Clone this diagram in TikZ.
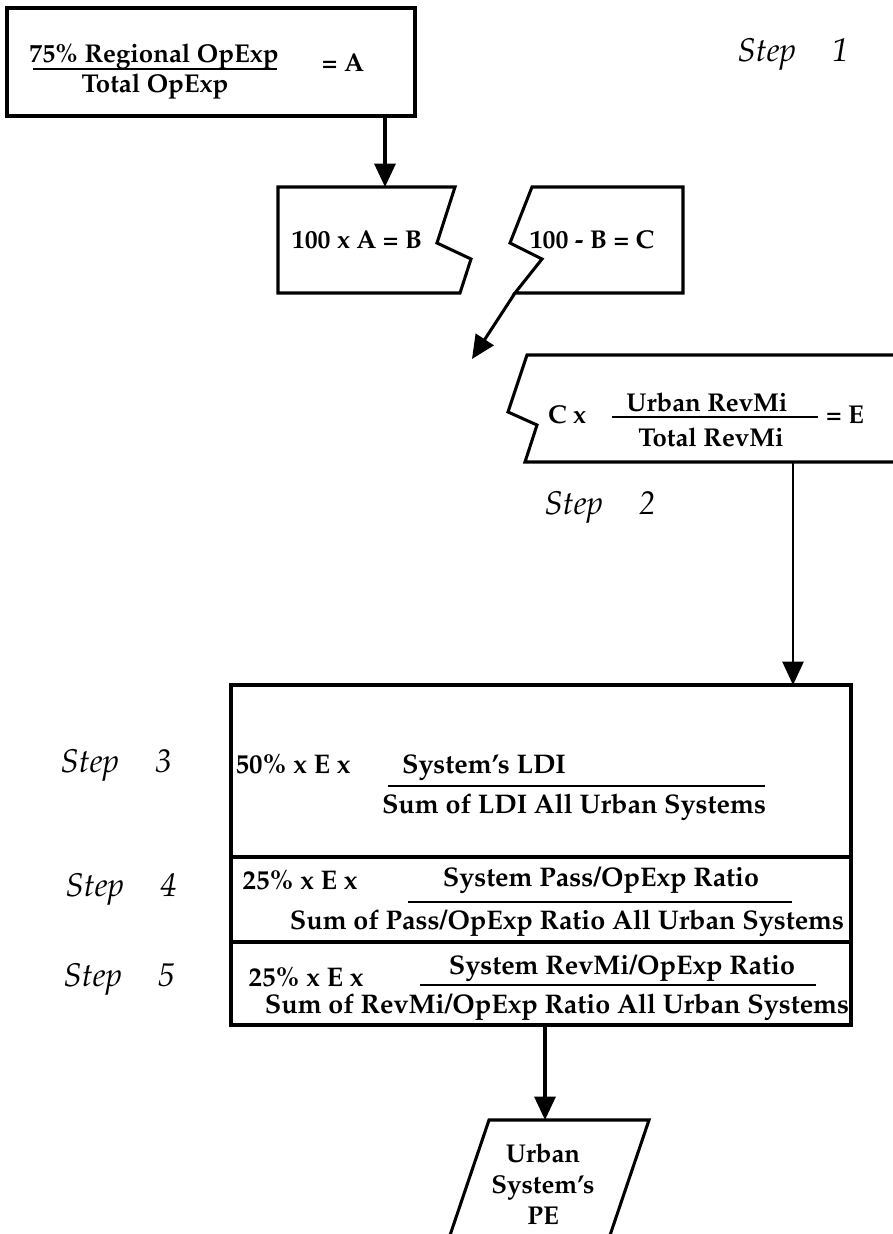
\documentclass[tikz,border=0pt]{standalone}
\usepackage[T1]{fontenc}
\usepackage{mathpazo}
\usepackage{tikz}
\usetikzlibrary{arrows.meta}

\tikzset{
  frame/.style={line width=1.3pt, line join=miter},
  flow/.style={line width=1.3pt, -{Triangle[length=10pt,width=9pt]}},
  eq/.style={font=\bfseries\fontsize{11}{13}\selectfont, inner sep=0pt},
  rowtext/.style={font=\bfseries\fontsize{11.5}{13}\selectfont, inner sep=0pt},
  steplbl/.style={font=\itshape\fontsize{14}{16}\selectfont, inner sep=0pt},
  fracrule/.style={line width=1pt}
}

\begin{document}
\begin{tikzpicture}[x=0.015cm,y=-0.015cm]
  \useasboundingbox (0,0) rectangle (893,1234);

  % Step 1: share of regional expenses
  \draw[frame] (7,8) rectangle (415,116);
  \node[eq] (regop) at (154,56) {75\% Regional OpExp};
  \node[eq] (totop) at (155,86) {Total OpExp};
  \draw[fracrule] (33,69) -- (277,69);
  \node[eq] (eqA) at (343,63) {= A};
  \node[steplbl] (step1) at (793,55) {Step\hspace{1.1em}1};

  % Percentages B and C (torn boxes)
  \draw[frame] (278,187) -- (455,187) -- (437,243) -- (471,259) -- (460,293) -- (278,293) -- cycle;
  \node[eq] (mulB) at (357,240) {100 x A = B};
  \draw[frame] (532,187) -- (683,187) -- (683,293) -- (515,293) -- (542,259) -- (510,243) -- cycle;
  \node[eq] (subC) at (592,240) {100 - B = C};

  \coordinate (aOut) at (385,116);
  \coordinate (bIn) at (385,187);
  \draw[flow] (aOut) -- (bIn);

  % Step 2: urban share E
  \draw[frame] (527,355) -- (900,355) -- (900,462) -- (525,462) -- (537,425) -- (508,412) -- cycle;
  \node[eq] (cx) at (567,415) {C x};
  \node[eq] (urbrm) at (707,402) {Urban RevMi};
  \node[eq] (totrm) at (711,437) {Total RevMi};
  \draw[fracrule] (612,417) -- (818,417);
  \node[eq] (eqE) at (845,415) {= E};
  \node[steplbl] (step2) at (600,508) {Step\hspace{1.1em}2};

  \coordinate (cOut) at (515,293);
  \coordinate (eIn) at (472,359);
  \draw[flow] (cOut) -- (eIn);

  % Steps 3-5: allocation box
  \draw[frame] (231,685) rectangle (851,1025);
  \draw[frame] (231,857) -- (851,857);
  \draw[frame] (231,942) -- (851,942);

  \coordinate (eOut) at (793,462);
  \coordinate (allocIn) at (793,685);
  \draw[flow, line width=1pt] (eOut) -- (allocIn);

  \node[steplbl] (step3) at (116,766) {Step\hspace{1.1em}3};
  \node[rowtext] (pct3) at (293,764) {50\% x E x};
  \node[rowtext] (ldi) at (484,768) {System's LDI};
  \draw[fracrule] (388,786) -- (765,786);
  \node[rowtext] (sumldi) at (574,807) {Sum of LDI All Urban Systems};

  \node[steplbl] (step4) at (121,890) {Step\hspace{1.1em}4};
  \node[rowtext] (pct4) at (300,880) {25\% x E x};
  \node[rowtext] (pass) at (601,880) {System Pass/OpExp Ratio};
  \draw[fracrule] (408,902) -- (792,902);
  \node[rowtext] (sumpass) at (567,923) {Sum of Pass/OpExp Ratio All Urban Systems};

  \node[steplbl] (step5) at (119,980) {Step\hspace{1.1em}5};
  \node[rowtext] (pct5) at (306,977) {25\% x E x};
  \node[rowtext] (revmi) at (622,968) {System RevMi/OpExp Ratio};
  \draw[fracrule] (420,985) -- (816,985);
  \node[rowtext] (sumrevmi) at (557,1007) {Sum of RevMi/OpExp Ratio All Urban Systems};

  % Output
  \draw[frame] (489,1120) -- (649,1120) -- (605,1250) -- (445,1250) -- cycle;
  \node[eq, align=center, font=\bfseries\fontsize{11}{13.2}\selectfont] (pe) at (543,1184) {Urban\\System's\\PE};

  \coordinate (allocOut) at (545,1025);
  \coordinate (peIn) at (545,1120);
  \draw[flow] (allocOut) -- (peIn);
\end{tikzpicture}
\end{document}
